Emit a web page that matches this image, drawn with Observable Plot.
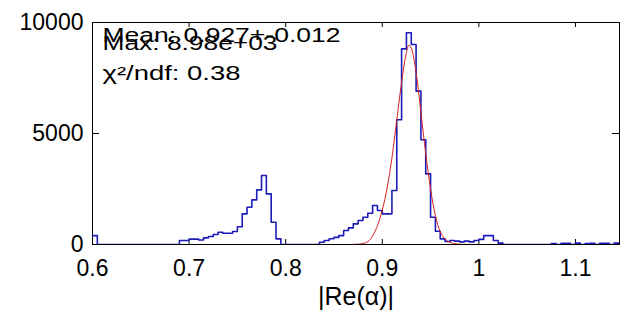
<!DOCTYPE html>
<html><head><meta charset="utf-8">
<script src="https://cdn.jsdelivr.net/npm/d3@7"></script>
<script src="https://cdn.jsdelivr.net/npm/@observablehq/plot@0.6"></script>
<style>html,body{margin:0;padding:0;background:#fff}#chart svg{display:block}</style>
</head><body><div id="chart"></div>
<script>
// Histogram: bins of width 0.005 starting at 0.6 (counts)
const binStart = 0.6;
const binWidth = 0.005;
const counts = [
  400, 0, 0, 0, 0, 0, 0, 0, 0, 0,          // 0.600 - 0.645
  0, 0, 0, 0, 0, 0, 0, 0, 180, 180,        // 0.650 - 0.695
  240, 240, 200, 300, 360, 450, 555, 510, 510, 585, // 0.700 - 0.745
  800, 1380, 1680, 2010, 2460, 3110, 2280, 1000, 255, 0, // 0.750 - 0.795
  0, 0, 0, 0, 0, 0, 0, 100, 180, 260,      // 0.800 - 0.845
  320, 400, 630, 750, 930, 1080, 1230, 1410, 1760, 1530, // 0.850 - 0.895
  1380, 1380, 2430, 5620, 8810, 9540, 9010, 6910, 4720, 3180, // 0.900 - 0.945
  1230, 600, 255, 135, 180, 150, 120, 150, 120, 180, // 0.950 - 0.995
  230, 400, 400, 180, 60, 0, 0, 0, 0, 0,   // 1.000 - 1.045
  0, 0, 0, 0, 0, 40, 0, 50, 50, 0,         // 1.050 - 1.095
  60, 0, 40, 50, 0, 50, 50, 0, 60, 60      // 1.100 - 1.145
];
// Fitted curve (red)
const fitX = [0.827, 0.85, 0.87, 0.875, 0.88, 0.885, 0.89, 0.895, 0.9, 0.905, 0.91, 0.915, 0.92, 0.925, 0.9275, 0.93, 0.935, 0.94, 0.945, 0.95, 0.955, 0.96, 0.965, 0.97, 0.975, 0.98, 0.99, 1.0, 1.027];
const fitY = [0, 0, 5, 15, 40, 130, 380, 850, 1550, 2550, 3900, 5600, 7300, 8650, 8980, 8850, 7750, 5950, 4100, 2500, 1300, 580, 250, 100, 40, 15, 3, 0, 0];

const xTicks = [0.6, 0.7, 0.8, 0.9, 1, 1.1];
const yTicks = [0, 5000, 10000];
const xDomain = [0.6, 1.1456];
const yDomain = [0, 10000];
const statLines = ["Mean: 0.927+-0.012", "Max: 8.98e+03", "χ²/ndf: 0.38"];
const xLabel = "|Re(α)|";

const hist = counts.map((c, i) => ({x: binStart + i * binWidth, y: c}));
const fit = fitX.map((x, i) => ({x, y: fitY[i]}));

const W = 620, H = 321, mL = 92, mR = 1, mT = 22, mB = 77;
const fw = W - mL - mR, fh = H - mT - mB;

const plot = Plot.plot({
  width: W, height: H,
  marginLeft: mL, marginRight: mR, marginTop: mT, marginBottom: mB,
  style: {fontFamily: "'Liberation Sans', Arial, sans-serif", fontSize: "23px", background: "#fff", color: "#000"},
  x: {domain: xDomain},
  y: {domain: yDomain},
  marks: [
    Plot.frame({stroke: "#000", strokeWidth: 1}),
    Plot.tickX(xTicks, {x: d => d, insetTop: fh - 5, stroke: "#000"}),
    Plot.tickX(xTicks, {x: d => d, insetBottom: fh - 5, stroke: "#000"}),
    Plot.tickY(yTicks, {y: d => d, insetRight: fw - 7, stroke: "#000"}),
    Plot.tickY(yTicks, {y: d => d, insetLeft: fw - 7, stroke: "#000"}),
    Plot.axisX(xTicks, {tickSize: 0, tickPadding: 15, tickFormat: d => String(d), label: null, fontSize: 23}),
    Plot.axisY(yTicks, {tickSize: 0, tickPadding: 9, tickFormat: d => String(d), label: null, fontSize: 23}),
    Plot.line(hist, {x: "x", y: "y", curve: "step-after", stroke: "#1c1cb8", strokeWidth: 1.6, clip: true}),
    Plot.line(fit, {x: "x", y: "y", curve: "catmull-rom", stroke: "#d42020", strokeWidth: 1, clip: true}),
    Plot.text([statLines[0]], {text: d => d, frameAnchor: "top-left", dx: 10, dy: 6, textAnchor: "start", lineAnchor: "top", fontSize: 19.5, fill: "#000"}),
    Plot.text([statLines[1]], {text: d => d, frameAnchor: "top-left", dx: 10, dy: 14, textAnchor: "start", lineAnchor: "top", fontSize: 19.5, fill: "#000"}),
    Plot.text([statLines[2]], {text: d => d, frameAnchor: "top-left", dx: 10, dy: 44, textAnchor: "start", lineAnchor: "top", fontSize: 19.5, fill: "#000"}),
    Plot.text([xLabel], {text: d => d, frameAnchor: "bottom", dy: 60, fontSize: 25, fill: "#000"})
  ]
});

// Stretch the statistics text horizontally like the original rendering
const statWidths = {"Mean: 0.927+-0.012": 238, "Max: 8.98e+03": 175, "χ²/ndf: 0.38": 138};
plot.querySelectorAll("text").forEach(t => {
  const w = statWidths[t.textContent];
  if (w) { t.setAttribute("textLength", w); t.setAttribute("lengthAdjust", "spacingAndGlyphs"); }
});

document.getElementById("chart").appendChild(plot);
</script>
</body></html>
